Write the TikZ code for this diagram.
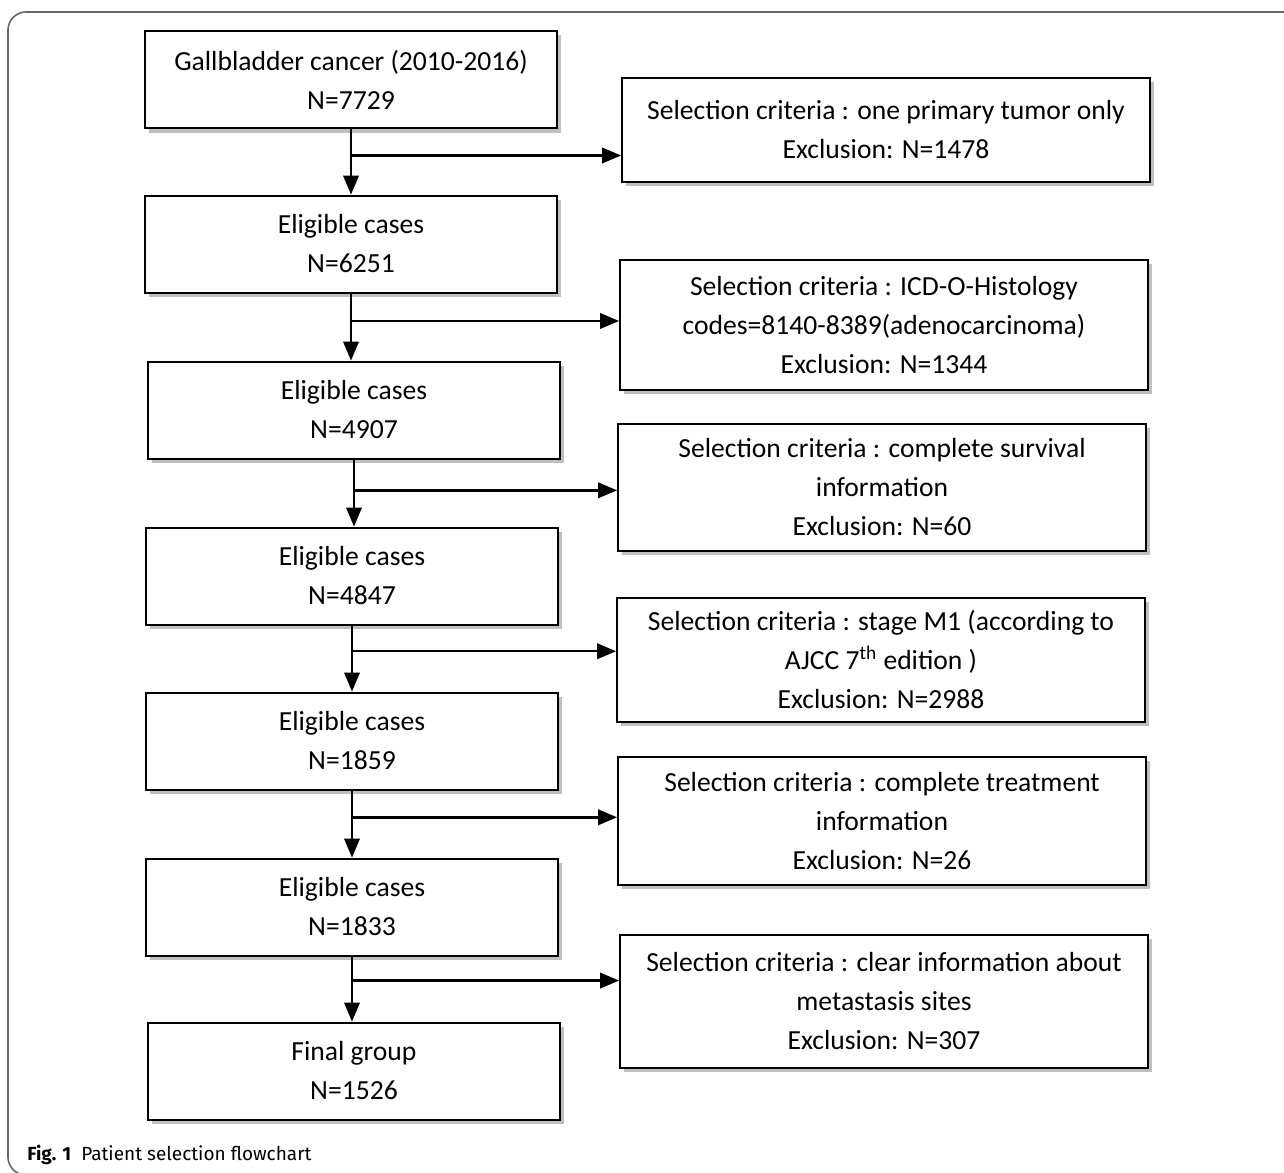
\documentclass[tikz,border=0pt]{standalone}
\usepackage{fontspec}
\setmainfont{Carlito}
\newfontfamily\capfont{Fira Sans}
\usetikzlibrary{arrows, shadows, calc, positioning}

\begin{document}
\begin{tikzpicture}[x=0.5pt, y=-0.5pt,
  box/.style={draw, line width=1pt, fill=white, align=center, inner sep=0pt,
    font=\fontsize{13.8}{19.5}\selectfont,
    drop shadow={shadow xshift=2pt, shadow yshift=-2pt, fill=black!50, opacity=0.5}},
  casebox/.style={box, minimum width=206pt, minimum height=48.5pt},
  critbox/.style={box, minimum width=264pt},
  arr/.style={-triangle 45, line width=1.2pt}]
\useasboundingbox (0,0) rectangle (1284,1172);
\draw[black!60, line width=0.8pt, rounded corners=9pt] (1300,1175) -- (8,1175) -- (8,12) -- (1300,12);

  \node[casebox] (c0) at (351,80) {Gallbladder cancer (2010-2016)\\N=7729};
  \node[casebox] (c1) at (351,244) {Eligible cases\\N=6251};
  \node[casebox] (c2) at (354,410) {Eligible cases\\N=4907};
  \node[casebox] (c3) at (352,576) {Eligible cases\\N=4847};
  \node[casebox] (c4) at (352,741) {Eligible cases\\N=1859};
  \node[casebox] (c5) at (352,907) {Eligible cases\\N=1833};
  \node[casebox] (c6) at (354,1071) {Final group\\N=1526};

  \node[critbox, minimum height=51.5pt] (r1) at (886,130) {Selection criteria : one primary tumor only\\Exclusion: N=1478};
  \node[critbox, minimum height=65pt] (r2) at (884,325) {Selection criteria : ICD-O-Histology\\codes=8140-8389(adenocarcinoma)\\Exclusion: N=1344};
  \node[critbox, minimum height=63.5pt] (r3) at (882,487) {Selection criteria : complete survival\\information\\Exclusion: N=60};
  \node[critbox, minimum height=62pt] (r4) at (881,660) {Selection criteria : stage M1 (according to\\AJCC 7\textsuperscript{th} edition )\\Exclusion: N=2988};
  \node[critbox, minimum height=64pt] (r5) at (882,821) {Selection criteria : complete treatment\\information\\Exclusion: N=26};
  \node[critbox, minimum height=66.5pt] (r6) at (884,1001) {Selection criteria : clear information about\\metastasis sites\\Exclusion: N=307};

  \coordinate (b1) at ($(c0.south)!0.4!(c0.south |- c1.north)$);
  \coordinate (b2) at ($(c1.south)!0.41!(c1.south |- c2.north)$);
  \coordinate (b3) at ($(c2.south)!0.46!(c2.south |- c3.north)$);
  \coordinate (b4) at ($(c3.south)!0.39!(c3.south |- c4.north)$);
  \coordinate (b5) at ($(c4.south)!0.4!(c4.south |- c5.north)$);
  \coordinate (b6) at ($(c5.south)!0.37!(c5.south |- c6.north)$);

\draw[arr] (c0.south) -- (c0.south |- c1.north);
\draw[arr] (c1.south) -- (c1.south |- c2.north);
\draw[arr] (c2.south) -- (c2.south |- c3.north);
\draw[arr] (c3.south) -- (c3.south |- c4.north);
\draw[arr] (c4.south) -- (c4.south |- c5.north);
\draw[arr] (c5.south) -- (c5.south |- c6.north);
\draw[arr] (b1) -- (b1 -| r1.west);
\draw[arr] (b2) -- (b2 -| r2.west);
\draw[arr] (b3) -- (b3 -| r3.west);
\draw[arr] (b4) -- (b4 -| r4.west);
\draw[arr] (b5) -- (b5 -| r5.west);
\draw[arr] (b6) -- (b6 -| r6.west);

  \node[anchor=base west, inner sep=0pt, font=\capfont\fontsize{9.5}{11}\selectfont] (cap) at (27,1160) {\textbf{Fig. 1}\hspace{5pt}Patient selection flowchart};
\end{tikzpicture}
\end{document}
